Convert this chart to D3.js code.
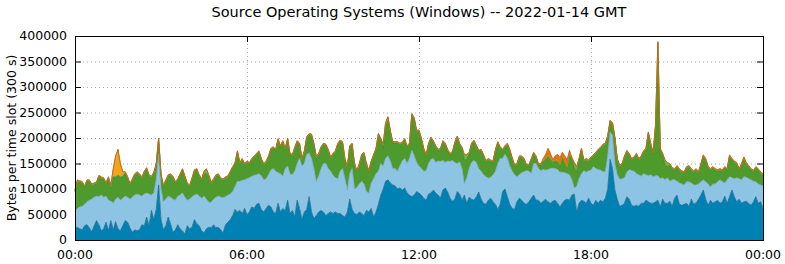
<!DOCTYPE html>
<html>
<head>
<meta charset="utf-8">
<script src="https://cdn.jsdelivr.net/npm/d3@7"></script>
<style>
  body { margin: 0; background: #fff; }
  svg { display: block; font-family: "DejaVu Sans", sans-serif; }
</style>
</head>
<body>
<svg id="chart" width="785" height="264"></svg>
<script>
// values in kB per 5-minute slot, 00:00 .. 24:00 (289 samples)
const winDarkBlue = [
  23,25,22,20,28,30,24,16,28,38, 30,18,22,35,18,38,20,36,22,18,
  28,38,35,24,15,20,18,20,30,28, 45,28,58,40,60,108,40,20,28,45,
  32,15,20,30,22,18,12,28,22,25, 40,32,28,18,14,22,25,24,30,24,
  25,20,14,30,35,40,48,60,55,58, 52,62,50,55,65,62,70,72,60,55,
  62,68,65,55,52,72,55,62,58,78, 52,58,45,78,62,40,55,60,85,55,
  42,48,55,58,55,48,52,55,52,55, 52,52,48,45,55,80,60,52,50,55,
  52,48,58,55,62,45,55,70,88,100, 115,118,112,108,106,100,102,98,102,92,
  88,85,88,95,92,88,82,78,90,92, 98,92,88,82,98,102,94,82,76,80,
  95,90,78,88,72,84,80,78,85,94, 80,72,70,78,82,75,70,60,70,95,
  100,85,70,62,60,75,82,78,72,70, 75,82,88,78,78,72,76,80,75,72,
  76,78,72,65,72,78,80,78,88,90, 55,72,78,76,72,82,72,68,78,72,
  78,75,82,100,158,140,98,80,66,68, 72,85,80,68,66,68,66,72,72,78,
  75,72,72,75,78,65,80,72,72,76, 66,82,88,70,68,70,72,66,80,70,
  73,80,88,98,80,68,78,72,75,78, 72,75,86,72,85,98,85,75,80,72,
  75,76,72,68,75,85,72,75,62
];
const winLightBlue = [
  33,37,43,46,42,45,54,64,56,48, 55,70,62,51,60,38,52,44,62,60,
  54,48,49,56,69,68,72,68,56,62, 47,62,30,52,58,60,60,55,52,41,
  52,65,58,56,66,74,72,50,58,60, 48,58,58,64,72,58,49,50,50,60,
  61,64,69,55,53,50,47,45,60,57, 65,56,70,67,60,65,58,58,66,63,
  58,60,72,85,83,60,75,63,82,67, 78,70,90,72,98,105,95,108,85,105,
  98,67,70,82,95,102,88,80,75,67, 68,83,92,75,43,50,80,48,53,55,
  63,62,37,37,50,75,75,65,62,45, 45,47,43,32,34,35,43,57,58,58,
  72,91,77,57,53,52,53,58,60,66, 62,60,67,72,58,50,61,72,80,72,
  55,63,62,22,50,56,72,78,67,46, 55,56,54,43,41,53,65,90,90,65,
  68,75,75,73,68,49,46,54,62,66, 60,48,62,72,62,64,62,57,63,68,
  65,62,66,68,61,54,50,50,30,12, 50,48,52,60,61,54,65,76,62,66,
  59,59,52,65,54,65,52,48,53,52, 50,48,58,68,69,62,62,53,58,50,
  51,56,52,51,48,55,42,46,50,39, 52,36,27,42,42,38,42,48,32,38,
  35,30,26,20,34,42,26,38,35,36, 46,39,26,46,39,24,35,47,40,46,
  49,47,48,50,40,29,38,33,44
];
const winGreen = [
  39,53,48,46,33,40,37,27,25,25, 39,33,35,24,43,25,51,43,42,45,
  42,45,38,28,33,39,41,39,35,42, 47,35,34,38,29,29,27,30,35,39,
  43,42,34,31,39,45,39,31,25,34, 47,47,39,35,43,50,51,37,37,41,
  41,35,34,36,35,42,46,44,57,34, 40,29,32,27,32,35,39,42,31,29,
  32,34,40,40,40,64,52,67,37,52, 37,37,44,42,27,12,22,32,36,45,
  47,47,42,40,37,35,35,25,40,50, 67,58,50,37,43,52,47,47,31,37,
  50,59,52,42,40,45,47,71,47,35, 58,69,57,50,50,55,42,34,36,32,
  27,69,72,60,68,57,42,29,37,41, 32,30,20,23,36,35,20,13,15,37,
  51,34,39,46,36,29,35,37,31,33, 40,37,29,36,31,24,40,40,20,15,
  14,27,30,24,17,23,34,30,23,9, 10,27,19,12,7,11,16,21,26,18,
  11,15,16,13,29,19,11,40,41,40, 27,37,47,18,24,18,23,20,29,37,
  42,51,53,37,20,22,49,29,25,27, 40,40,29,21,25,37,29,37,42,49,
  83,59,45,96,231,57,45,29,22,32, 21,19,28,25,23,23,27,29,25,25,
  29,21,33,46,43,32,33,31,27,21, 19,21,29,19,40,35,32,27,17,29,
  36,26,23,19,19,27,27,23,21
];
// small series: [slot, value] pairs, every other slot ~1
const winLightGreen = [[54,4],[55,8],[129,6],[130,10],[131,6],[163,10],[164,8],[209,8],[210,10],[244,30],[247,8],[248,6]];
const winLightOrange = [[15,5],[16,15],[17,40],[18,50],[19,25],[20,8]];
const winDarkOrange = [[196,4],[197,8],[198,14],[199,10],[200,4],[201,8],[202,12],[203,14],[204,8],[205,12],[206,15],[207,6]];

const seriesKeys = ["darkBlue", "lightBlue", "green", "lightGreen", "lightOrange", "darkOrange"];
const fillColors = ["#0081b3", "#8ec4e3", "#4e9a2c", "#6cbd48", "#f4a41c", "#e8720c"];
const edgeColors = ["#1a6a8e", "#7fa9c2", "#3f7f24", "#58a03a", "#c98a1a", "#b8641a"];
const yTicks = [0, 50000, 100000, 150000, 200000, 250000, 300000, 350000, 400000];
const xTickMinutes = [0, 360, 720, 1080, 1440];
const xTickLabels = ["00:00", "06:00", "12:00", "18:00", "00:00"];

const margin = { left: 75, right: 763, top: 36, bottom: 240 };
const svg = d3.select("#chart");

function sparse(pairs) {
  const m = new Map(pairs);
  return d3.range(289).map(i => (m.has(i) ? m.get(i) : 1));
}
const lg = sparse(winLightGreen);
const lo = sparse(winLightOrange);
const dor = sparse(winDarkOrange);

const rows = d3.range(289).map(i => ({
  t: i * 5,
  darkBlue: winDarkBlue[i] * 1000,
  lightBlue: winLightBlue[i] * 1000,
  green: winGreen[i] * 1000,
  lightGreen: lg[i] * 1000,
  lightOrange: lo[i] * 1000,
  darkOrange: dor[i] * 1000
}));

const x = d3.scaleLinear().domain([0, 1440]).range([margin.left, margin.right]);
const y = d3.scaleLinear().domain([0, 400000]).range([margin.bottom, margin.top]);

// grid
const grid = svg.append("g").attr("stroke", "#a8a8a8").attr("stroke-dasharray", "1,3");
grid.selectAll("line.h").data(yTicks.slice(1, -1)).enter().append("line")
  .attr("x1", margin.left).attr("x2", margin.right)
  .attr("y1", d => y(d) + 0.5).attr("y2", d => y(d) + 0.5);
grid.selectAll("line.v").data(xTickMinutes.slice(1, -1)).enter().append("line")
  .attr("y1", margin.top).attr("y2", margin.bottom)
  .attr("x1", d => Math.round(x(d)) + 0.5).attr("x2", d => Math.round(x(d)) + 0.5);

// tick marks (behind the data)
const tickLen = 6;
const ticks = svg.append("g").attr("stroke", "#000");
ticks.selectAll("line.yl").data(yTicks).enter().append("line")
  .attr("x1", margin.left).attr("x2", margin.left + tickLen)
  .attr("y1", d => y(d) + 0.5).attr("y2", d => y(d) + 0.5);
ticks.selectAll("line.yr").data(yTicks).enter().append("line")
  .attr("x1", margin.right - tickLen).attr("x2", margin.right)
  .attr("y1", d => y(d) + 0.5).attr("y2", d => y(d) + 0.5);
ticks.selectAll("line.xt").data(xTickMinutes).enter().append("line")
  .attr("y1", margin.top).attr("y2", margin.top + tickLen)
  .attr("x1", d => Math.round(x(d)) + 0.5).attr("x2", d => Math.round(x(d)) + 0.5);
ticks.selectAll("line.xb").data(xTickMinutes).enter().append("line")
  .attr("y1", margin.bottom - tickLen).attr("y2", margin.bottom)
  .attr("x1", d => Math.round(x(d)) + 0.5).attr("x2", d => Math.round(x(d)) + 0.5);

// stacked areas
const stacked = d3.stack().keys(seriesKeys)(rows);
const area = d3.area()
  .x(d => x(d.data.t))
  .y0(d => y(d[0]))
  .y1(d => y(d[1]));
const edge = d3.line()
  .x(d => x(d.data.t))
  .y(d => y(d[1]));

svg.append("g").selectAll("path")
  .data(stacked).enter().append("path")
  .attr("d", area)
  .attr("fill", (d, i) => fillColors[i]);

svg.append("g").selectAll("path")
  .data(stacked).enter().append("path")
  .attr("d", edge)
  .attr("fill", "none")
  .attr("stroke", (d, i) => edgeColors[i])
  .attr("stroke-width", 1)
  .attr("stroke-opacity", 0.8);

// border
svg.append("rect")
  .attr("x", margin.left + 0.5).attr("y", margin.top + 0.5)
  .attr("width", margin.right - margin.left).attr("height", margin.bottom - margin.top)
  .attr("fill", "none").attr("stroke", "#000").attr("stroke-width", 1);

// labels
svg.append("g").selectAll("text").data(yTicks).enter().append("text")
  .attr("x", 67).attr("y", d => y(d))
  .attr("dy", "0.35em").attr("text-anchor", "end")
  .attr("font-size", 12.5).text(d => d);

svg.append("g").selectAll("text").data(xTickMinutes).enter().append("text")
  .attr("x", d => x(d)).attr("y", 255)
  .attr("dy", "0.35em").attr("text-anchor", "middle")
  .attr("font-size", 12.5).text((d, i) => xTickLabels[i]);

svg.append("text")
  .attr("transform", "translate(12,138) rotate(-90)")
  .attr("dy", "0.35em").attr("text-anchor", "middle")
  .attr("font-size", 12.5).text("Bytes per time slot (300 s)");

svg.append("text")
  .attr("x", 419).attr("y", 12)
  .attr("dy", "0.35em").attr("text-anchor", "middle")
  .attr("font-size", 14.5).text("Source Operating Systems (Windows) -- 2022-01-14 GMT");
</script>
</body>
</html>
